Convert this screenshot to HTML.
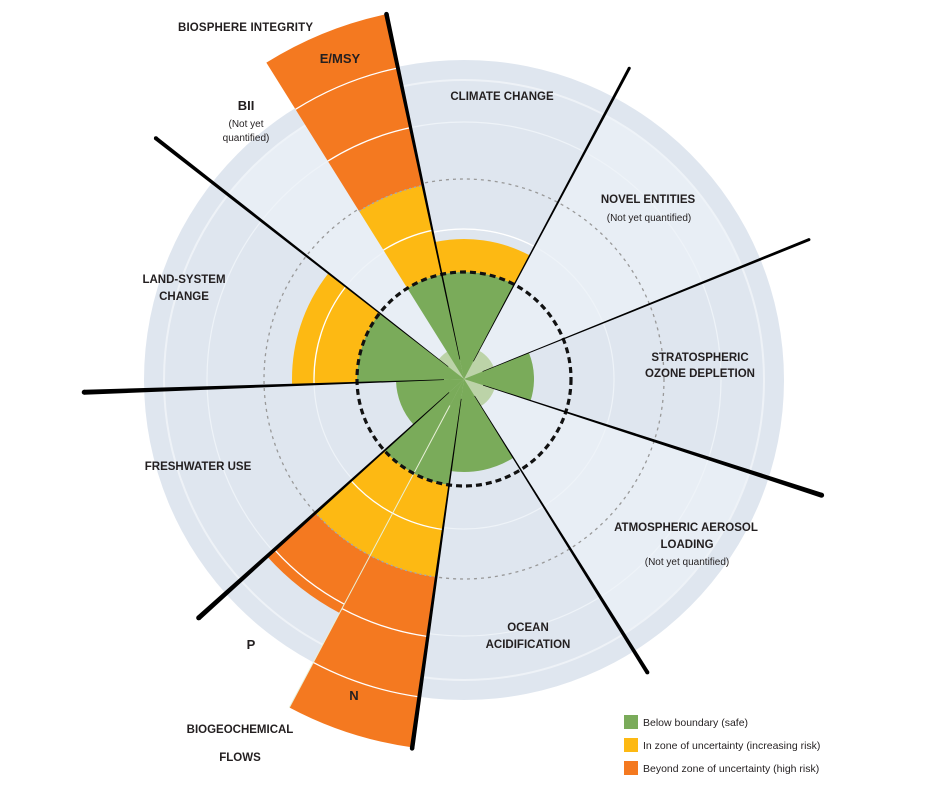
<!DOCTYPE html>
<html><head><meta charset="utf-8"><style>
html,body{margin:0;padding:0;background:#fff;}
svg{display:block;}
text{font-family:"Liberation Sans",sans-serif;fill:#231f20;}
.b{font-weight:bold;font-size:11.5px;}
.s{font-size:10px;}
</style></head><body>
<svg id="s" width="936" height="810" viewBox="0 0 936 810" xmlns="http://www.w3.org/2000/svg">
<circle cx="464" cy="380" r="320" fill="#dfe6ef"/>
<circle cx="464" cy="380" r="300" fill="none" stroke="#eef2f7" stroke-width="2"/>
<g id="bg"></g>
<circle cx="464" cy="379" r="150" fill="none" stroke="#eef3f8" stroke-width="1.2"/>
<circle cx="464" cy="379" r="257" fill="none" stroke="#eef3f8" stroke-width="1.2"/>
<circle cx="464" cy="379" r="200" fill="none" stroke="#999" stroke-width="1.3" stroke-dasharray="3,4"/>
<circle cx="464" cy="379" r="32" fill="#bcd3a8"/>
<g id="w"></g>
<circle cx="464" cy="379" r="107" fill="none" stroke="#111" stroke-width="3.2" stroke-dasharray="6,4"/>
<g id="l"></g>
<text class="b" x="178" y="31" textLength="135">BIOSPHERE INTEGRITY</text>
<text class="b" x="340" y="63" text-anchor="middle" style="font-size:13px">E/MSY</text>
<text class="b" x="246" y="110" text-anchor="middle" style="font-size:13px">BII</text>
<text class="s" x="246" y="127" text-anchor="middle">(Not yet</text>
<text class="s" x="246" y="141" text-anchor="middle">quantified)</text>
<text class="b" x="502" y="100" text-anchor="middle">CLIMATE CHANGE</text>
<text class="b" x="648" y="203" text-anchor="middle">NOVEL ENTITIES</text>
<text class="s" x="649" y="221" text-anchor="middle">(Not yet quantified)</text>
<text class="b" x="184" y="283" text-anchor="middle">LAND-SYSTEM</text>
<text class="b" x="184" y="300" text-anchor="middle">CHANGE</text>
<text class="b" x="700" y="361" text-anchor="middle">STRATOSPHERIC</text>
<text class="b" x="700" y="377" text-anchor="middle">OZONE DEPLETION</text>
<text class="b" x="198" y="470" text-anchor="middle">FRESHWATER USE</text>
<text class="b" x="686" y="531" text-anchor="middle">ATMOSPHERIC AEROSOL</text>
<text class="b" x="687" y="548" text-anchor="middle">LOADING</text>
<text class="s" x="687" y="565" text-anchor="middle">(Not yet quantified)</text>
<text class="b" x="528" y="631" text-anchor="middle">OCEAN</text>
<text class="b" x="528" y="648" text-anchor="middle">ACIDIFICATION</text>
<text class="b" x="251" y="649" text-anchor="middle" style="font-size:13px">P</text>
<text class="b" x="354" y="700" text-anchor="middle" style="font-size:13px">N</text>
<text class="b" x="240" y="733" text-anchor="middle">BIOGEOCHEMICAL</text>
<text class="b" x="240" y="761" text-anchor="middle">FLOWS</text>
<rect x="624" y="715" width="14" height="14" fill="#7aab5a"/>
<rect x="624" y="738" width="14" height="14" fill="#fdb913"/>
<rect x="624" y="761" width="14" height="14" fill="#f47920"/>
<text x="643" y="726" style="font-size:10.5px">Below boundary (safe)</text>
<text x="643" y="749" style="font-size:10.5px">In zone of uncertainty (increasing risk)</text>
<text x="643" y="772" style="font-size:10.5px">Beyond zone of uncertainty (high risk)</text>
</svg>
<script>
var cx=464,cy=379,NS="http://www.w3.org/2000/svg";
function P(a,r){var t=a*Math.PI/180;return [cx+r*Math.sin(t),cy-r*Math.cos(t)];}
function wedge(a1,a2,r1,r2){var o1=P(a1,r2),o2=P(a2,r2),d="M"+(r1>0?P(a1,r1):[cx,cy])+"L"+o1+"A"+r2+","+r2+" 0 0 1 "+o2;
 if(r1>0){var i2=P(a2,r1),i1=P(a1,r1);d+="L"+i2+"A"+r1+","+r1+" 0 0 0 "+i1;}return d+"Z";}
function add(g,tag,attrs){var e=document.createElementNS(NS,tag);for(var k in attrs)e.setAttribute(k,attrs[k]);document.getElementById(g).appendChild(e);}
function W(a1,a2,r1,r2,c){add("w","path",{d:wedge(a1,a2,r1,r2),fill:c});}
function arc(a1,a2,r,c,dash){var p1=P(a1,r),p2=P(a2,r);add("w","path",{d:"M"+p1+"A"+r+","+r+" 0 0 1 "+p2,fill:"none",stroke:c,"stroke-width":1.3,"stroke-dasharray":dash||""});}
var G="#7aab5a",Y="#fdb913",O="#f47920";
// not quantified lighter wedges
[[308,328],[28,68],[108,148]].forEach(function(s){add("bg","path",{d:wedge(s[0],s[1],0,300),fill:"#eef3f8",opacity:0.6});});
// climate
W(348,388,0,107,G);W(348,388,107,140,Y);
// ozone
W(68,108,0,70,G);
// ocean
W(148,188,0,93,G);
// N
W(188,208,0,107,G);W(188,208,107,200,Y);W(188,208,200,372,O);
arc(188,208,152,"#fff");arc(188,208,260,"#fff");arc(188,208,321,"#fff");
// P
W(208,228,0,107,G);W(208,228,107,200,Y);W(208,228,200,265,O);
arc(208,228,152,"#fff");arc(208,228,255,"#fff");
arc(188,228,200,"#9ab","2,3");
// freshwater
W(228,268,0,68,G);
// land
W(268,308,0,107,G);W(268,308,107,172,Y);arc(268,308,150,"#fff");
// E/MSY
W(328,348,0,107,G);W(328,348,107,198,Y);W(328,348,198,373,O);
arc(328,348,152,"#fff");arc(328,348,257,"#fff");arc(328,348,318,"#fff");
arc(328,348,198,"#9ab","2,3");
arc(348,388,150,"#fff");
// white separators N/P
var a=P(208,30),b=P(208,372);add("w","line",{x1:a[0],y1:a[1],x2:b[0],y2:b[1],stroke:"#e8f0d8","stroke-width":1});
// lines tapered
[[348,373,4.5],[28,352,3],[68,372,3],[108,376,5],[148,346,4],[188,373,4.5],[228,357,5],[268,380,5],[308,391,4]].forEach(function(L){
 var a=L[0],r=L[1],w=L[2],t=a*Math.PI/180,nx=Math.cos(t),ny=Math.sin(t);
 var s=P(a,20),e=P(a,r),w0=0.3;
 var pts=[[s[0]+nx*w0,s[1]+ny*w0],[e[0]+nx*w/2,e[1]+ny*w/2],[e[0]-nx*w/2,e[1]-ny*w/2],[s[0]-nx*w0,s[1]-ny*w0]];
 add("l","polygon",{points:pts.map(function(p){return p.join(",");}).join(" "),fill:"#000"});
 add("l","circle",{cx:e[0],cy:e[1],r:w/2,fill:"#000"});
});
</script>
</body></html>
